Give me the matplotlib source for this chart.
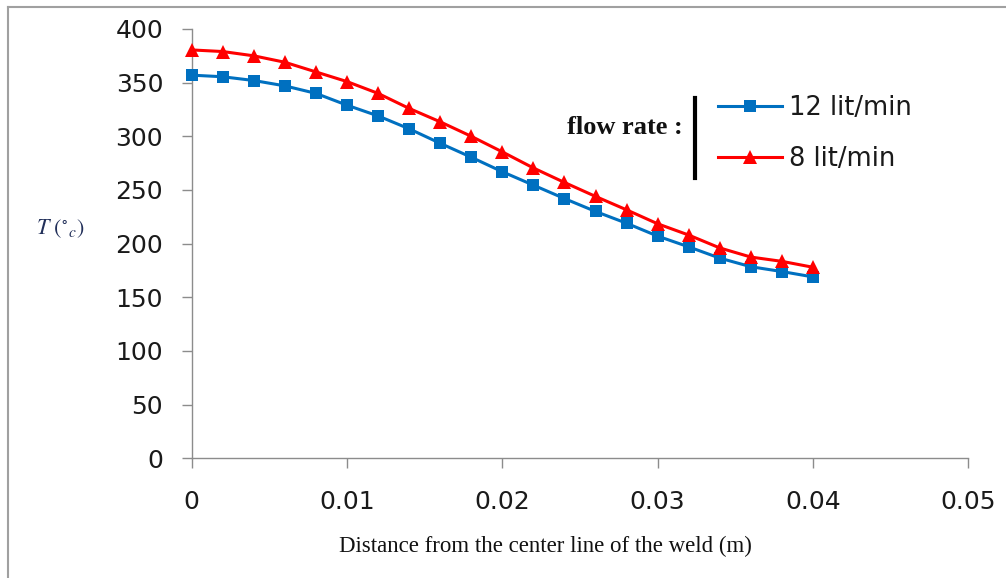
import matplotlib
matplotlib.use("Agg")
import matplotlib.pyplot as plt
from matplotlib.lines import Line2D
import numpy as np

# ---- data ----
distance = [0.000, 0.002, 0.004, 0.006, 0.008, 0.010, 0.012, 0.014, 0.016, 0.018,
            0.020, 0.022, 0.024, 0.026, 0.028, 0.030, 0.032, 0.034, 0.036, 0.038, 0.040]
temp_12 = [357, 355.5, 352, 347, 340, 329, 319, 307, 293.5, 280.5,
           267, 254.5, 242, 230, 219, 207, 197, 186.5, 178.5, 174, 169]
temp_8 = [380.5, 379, 375, 369, 360, 351, 340, 326, 313.5, 300,
          285.5, 270.5, 257, 244, 231.5, 218.5, 208, 196, 187.5, 183.5, 178]
series_labels = ["12 lit/min", "8 lit/min"]
x_ticks = [0, 0.01, 0.02, 0.03, 0.04, 0.05]
x_tick_labels = ["0", "0.01", "0.02", "0.03", "0.04", "0.05"]
y_ticks = [0, 50, 100, 150, 200, 250, 300, 350, 400]

W, H = 1006, 578
fig = plt.figure(figsize=(W / 100, H / 100), dpi=100)
fig.patch.set_facecolor("white")

ax = fig.add_axes([191.7 / W, 1 - 458.3 / H, (968.3 - 191.7) / W, (458.3 - 29) / H])

blue = "#0070C0"
red = "#FF0000"
ax.plot(distance, temp_12, color=blue, lw=2.2, marker="s", ms=8, mew=0,
        label=series_labels[0], clip_on=False, zorder=3)
ax.plot(distance, temp_8, color=red, lw=2.2, marker="^", ms=9.5, mew=0,
        label=series_labels[1], clip_on=False, zorder=3)

ax.set_xlim(0, 0.05)
ax.set_ylim(0, 400)
ax.set_xticks(x_ticks)
ax.set_xticklabels(x_tick_labels)
ax.set_yticks(y_ticks)

spine_col = "#8c8c8c"
for s in ["top", "right"]:
    ax.spines[s].set_visible(False)
for s in ["left", "bottom"]:
    ax.spines[s].set_color(spine_col)
    ax.spines[s].set_linewidth(1.0)
ax.tick_params(axis="both", colors=spine_col, length=7.5, width=1.0, direction="out",
               labelcolor="#1a1a1a", labelsize=18)
ax.tick_params(axis="x", pad=15)
ax.tick_params(axis="y", pad=13)
for lab in ax.get_xticklabels() + ax.get_yticklabels():
    lab.set_fontfamily("DejaVu Sans")

# axis titles
fig.text(545 / W, 1 - 546 / H, "Distance from the center line of the weld (m)",
         family="Liberation Serif", fontsize=16.5, ha="center", va="center", color="#111111")
fig.text(60 / W, 1 - 229 / H, r"$T\ (^{\circ}{}_{c})$", fontsize=16,
         ha="center", va="center", color="#22305a",
         math_fontfamily="stix")

# legend
leg = ax.legend(loc="center left", bbox_to_anchor=(718 / W, 1 - 133.5 / H),
                bbox_transform=fig.transFigure, frameon=False,
                prop={"family": "DejaVu Sans", "size": 18.5},
                handlelength=2.5, handletextpad=0.25, labelspacing=1.0,
                borderaxespad=0, borderpad=0)
for t in leg.get_texts():
    t.set_color("#1a1a1a")

fig.text(683 / W, 1 - 134 / H, "flow rate :", family="Liberation Serif",
         fontweight="bold", fontsize=19, ha="right", va="baseline", color="#111111")
fig.add_artist(Line2D([695 / W, 695 / W], [1 - 98 / H, 1 - 178 / H],
                      transform=fig.transFigure, color="black", lw=3))

# outer frame (top and left edges)
fig.add_artist(Line2D([8 / W, 1.0], [1 - 7 / H, 1 - 7 / H],
                      transform=fig.transFigure, color="#a0a0a0", lw=1.5))
fig.add_artist(Line2D([8 / W, 8 / W], [1 - 7 / H, 0],
                      transform=fig.transFigure, color="#a0a0a0", lw=1.5))

fig.savefig("out.png", dpi=100)
